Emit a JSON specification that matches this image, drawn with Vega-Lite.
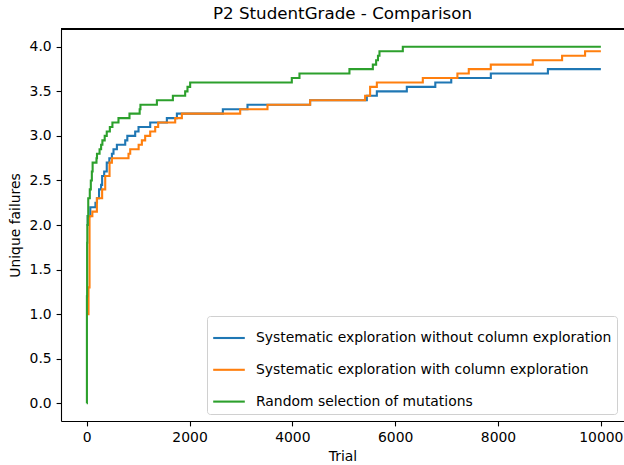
{
  "$schema": "https://vega.github.io/schema/vega-lite/v6.json",
  "width": 563,
  "height": 392,
  "autosize": "none",
  "padding": {"left": 61, "top": 29, "right": 0, "bottom": 44},
  "background": "white",
  "title": {"text": "P2 StudentGrade - Comparison", "font": "DejaVu Sans", "fontSize": 16.7, "fontWeight": "normal", "color": "black", "anchor": "middle", "offset": 6},
  "config": {
    "view": {"stroke": null},
    "axis": {"labelFont": "DejaVu Sans", "labelFontSize": 13.9, "labelColor": "black", "titleFont": "DejaVu Sans", "titleFontSize": 13.9, "titleFontWeight": "normal", "titleColor": "black", "domainColor": "black", "domainWidth": 1.1, "tickColor": "black", "tickWidth": 1.1, "tickSize": 4.9, "labelPadding": 4.9, "grid": false},
    "legend": {"labelFont": "DejaVu Sans", "labelFontSize": 13.9, "labelColor": "black", "labelLimit": 500}
  },
  "data": {"values": [
    {"series": "Systematic exploration without column exploration", "trial": 0, "failures": 2.0},
    {"series": "Systematic exploration without column exploration", "trial": 20, "failures": 2.1},
    {"series": "Systematic exploration without column exploration", "trial": 70, "failures": 2.2},
    {"series": "Systematic exploration without column exploration", "trial": 170, "failures": 2.25},
    {"series": "Systematic exploration without column exploration", "trial": 200, "failures": 2.3},
    {"series": "Systematic exploration without column exploration", "trial": 240, "failures": 2.4},
    {"series": "Systematic exploration without column exploration", "trial": 280, "failures": 2.45},
    {"series": "Systematic exploration without column exploration", "trial": 300, "failures": 2.55},
    {"series": "Systematic exploration without column exploration", "trial": 340, "failures": 2.6},
    {"series": "Systematic exploration without column exploration", "trial": 390, "failures": 2.7},
    {"series": "Systematic exploration without column exploration", "trial": 440, "failures": 2.75},
    {"series": "Systematic exploration without column exploration", "trial": 490, "failures": 2.8},
    {"series": "Systematic exploration without column exploration", "trial": 521, "failures": 2.85},
    {"series": "Systematic exploration without column exploration", "trial": 587, "failures": 2.9},
    {"series": "Systematic exploration without column exploration", "trial": 749, "failures": 2.95},
    {"series": "Systematic exploration without column exploration", "trial": 790, "failures": 3.0},
    {"series": "Systematic exploration without column exploration", "trial": 943, "failures": 3.05},
    {"series": "Systematic exploration without column exploration", "trial": 1008, "failures": 3.1},
    {"series": "Systematic exploration without column exploration", "trial": 1235, "failures": 3.15},
    {"series": "Systematic exploration without column exploration", "trial": 1559, "failures": 3.2},
    {"series": "Systematic exploration without column exploration", "trial": 1754, "failures": 3.25},
    {"series": "Systematic exploration without column exploration", "trial": 2648, "failures": 3.3},
    {"series": "Systematic exploration without column exploration", "trial": 3127, "failures": 3.35},
    {"series": "Systematic exploration without column exploration", "trial": 4345, "failures": 3.4},
    {"series": "Systematic exploration without column exploration", "trial": 5448, "failures": 3.45},
    {"series": "Systematic exploration without column exploration", "trial": 5643, "failures": 3.5},
    {"series": "Systematic exploration without column exploration", "trial": 6226, "failures": 3.55},
    {"series": "Systematic exploration without column exploration", "trial": 6780, "failures": 3.6},
    {"series": "Systematic exploration without column exploration", "trial": 7090, "failures": 3.65},
    {"series": "Systematic exploration without column exploration", "trial": 7860, "failures": 3.7},
    {"series": "Systematic exploration without column exploration", "trial": 8970, "failures": 3.75},
    {"series": "Systematic exploration without column exploration", "trial": 10000, "failures": 3.75},
    {"series": "Systematic exploration with column exploration", "trial": 0, "failures": 1.0},
    {"series": "Systematic exploration with column exploration", "trial": 35, "failures": 1.3},
    {"series": "Systematic exploration with column exploration", "trial": 55, "failures": 2.1},
    {"series": "Systematic exploration with column exploration", "trial": 110, "failures": 2.15},
    {"series": "Systematic exploration with column exploration", "trial": 198, "failures": 2.3},
    {"series": "Systematic exploration with column exploration", "trial": 300, "failures": 2.4},
    {"series": "Systematic exploration with column exploration", "trial": 360, "failures": 2.55},
    {"series": "Systematic exploration with column exploration", "trial": 444, "failures": 2.7},
    {"series": "Systematic exploration with column exploration", "trial": 490, "failures": 2.75},
    {"series": "Systematic exploration with column exploration", "trial": 813, "failures": 2.8},
    {"series": "Systematic exploration with column exploration", "trial": 846, "failures": 2.85},
    {"series": "Systematic exploration with column exploration", "trial": 1010, "failures": 2.9},
    {"series": "Systematic exploration with column exploration", "trial": 1073, "failures": 2.95},
    {"series": "Systematic exploration with column exploration", "trial": 1137, "failures": 3.0},
    {"series": "Systematic exploration with column exploration", "trial": 1235, "failures": 3.05},
    {"series": "Systematic exploration with column exploration", "trial": 1332, "failures": 3.1},
    {"series": "Systematic exploration with column exploration", "trial": 1390, "failures": 3.15},
    {"series": "Systematic exploration with column exploration", "trial": 1721, "failures": 3.2},
    {"series": "Systematic exploration with column exploration", "trial": 1851, "failures": 3.25},
    {"series": "Systematic exploration with column exploration", "trial": 2985, "failures": 3.3},
    {"series": "Systematic exploration with column exploration", "trial": 3516, "failures": 3.35},
    {"series": "Systematic exploration with column exploration", "trial": 4345, "failures": 3.4},
    {"series": "Systematic exploration with column exploration", "trial": 5415, "failures": 3.45},
    {"series": "Systematic exploration with column exploration", "trial": 5512, "failures": 3.55},
    {"series": "Systematic exploration with column exploration", "trial": 5643, "failures": 3.6},
    {"series": "Systematic exploration with column exploration", "trial": 6537, "failures": 3.65},
    {"series": "Systematic exploration with column exploration", "trial": 7210, "failures": 3.7},
    {"series": "Systematic exploration with column exploration", "trial": 7431, "failures": 3.75},
    {"series": "Systematic exploration with column exploration", "trial": 7859, "failures": 3.8},
    {"series": "Systematic exploration with column exploration", "trial": 8676, "failures": 3.85},
    {"series": "Systematic exploration with column exploration", "trial": 9246, "failures": 3.9},
    {"series": "Systematic exploration with column exploration", "trial": 9693, "failures": 3.95},
    {"series": "Systematic exploration with column exploration", "trial": 10000, "failures": 3.95},
    {"series": "Random selection of mutations", "trial": 0, "failures": 0.0},
    {"series": "Random selection of mutations", "trial": 4, "failures": 1.2},
    {"series": "Random selection of mutations", "trial": 8, "failures": 1.8},
    {"series": "Random selection of mutations", "trial": 12, "failures": 2.0},
    {"series": "Random selection of mutations", "trial": 20, "failures": 2.1},
    {"series": "Random selection of mutations", "trial": 30, "failures": 2.3},
    {"series": "Random selection of mutations", "trial": 60, "failures": 2.4},
    {"series": "Random selection of mutations", "trial": 80, "failures": 2.5},
    {"series": "Random selection of mutations", "trial": 100, "failures": 2.6},
    {"series": "Random selection of mutations", "trial": 115, "failures": 2.7},
    {"series": "Random selection of mutations", "trial": 190, "failures": 2.75},
    {"series": "Random selection of mutations", "trial": 200, "failures": 2.8},
    {"series": "Random selection of mutations", "trial": 250, "failures": 2.85},
    {"series": "Random selection of mutations", "trial": 280, "failures": 2.9},
    {"series": "Random selection of mutations", "trial": 305, "failures": 2.95},
    {"series": "Random selection of mutations", "trial": 350, "failures": 3.0},
    {"series": "Random selection of mutations", "trial": 390, "failures": 3.05},
    {"series": "Random selection of mutations", "trial": 450, "failures": 3.1},
    {"series": "Random selection of mutations", "trial": 500, "failures": 3.15},
    {"series": "Random selection of mutations", "trial": 618, "failures": 3.2},
    {"series": "Random selection of mutations", "trial": 832, "failures": 3.25},
    {"series": "Random selection of mutations", "trial": 1030, "failures": 3.3},
    {"series": "Random selection of mutations", "trial": 1045, "failures": 3.35},
    {"series": "Random selection of mutations", "trial": 1365, "failures": 3.4},
    {"series": "Random selection of mutations", "trial": 1676, "failures": 3.45},
    {"series": "Random selection of mutations", "trial": 1915, "failures": 3.5},
    {"series": "Random selection of mutations", "trial": 1960, "failures": 3.55},
    {"series": "Random selection of mutations", "trial": 2012, "failures": 3.6},
    {"series": "Random selection of mutations", "trial": 3989, "failures": 3.65},
    {"series": "Random selection of mutations", "trial": 4138, "failures": 3.7},
    {"series": "Random selection of mutations", "trial": 5110, "failures": 3.75},
    {"series": "Random selection of mutations", "trial": 5565, "failures": 3.8},
    {"series": "Random selection of mutations", "trial": 5629, "failures": 3.85},
    {"series": "Random selection of mutations", "trial": 5665, "failures": 3.9},
    {"series": "Random selection of mutations", "trial": 5694, "failures": 3.95},
    {"series": "Random selection of mutations", "trial": 6148, "failures": 4.0},
    {"series": "Random selection of mutations", "trial": 10000, "failures": 4.0}
  ]},
  "layer": [
    {
      "mark": {"type": "line", "interpolate": "step-after", "strokeWidth": 2.1},
      "encoding": {
        "x": {"field": "trial", "type": "quantitative", "title": "Trial",
              "scale": {"domain": [-500, 10450], "nice": false, "zero": false},
              "axis": {"values": [0, 2000, 4000, 6000, 8000, 10000], "format": "d", "titlePadding": 5}},
        "y": {"field": "failures", "type": "quantitative", "title": "Unique failures",
              "scale": {"domain": [-0.2, 4.2], "nice": false, "zero": false},
              "axis": {"values": [0, 0.5, 1, 1.5, 2, 2.5, 3, 3.5, 4], "format": ".1f", "titlePadding": 7}},
        "color": {"field": "series", "type": "nominal", "sort": null,
                  "scale": {"domain": ["Systematic exploration without column exploration", "Systematic exploration with column exploration", "Random selection of mutations"],
                            "range": ["#1f77b4", "#ff7f0e", "#2ca02c"]},
                  "legend": {"title": null, "orient": "bottom-right", "offset": 7, "symbolType": "stroke", "symbolSize": 1000, "symbolStrokeWidth": 2.1, "labelOffset": 10, "rowPadding": 7.8, "padding": 5, "fillColor": "white", "strokeColor": "#d0d0d0", "cornerRadius": 3}}
      }
    },
    {
      "mark": {"type": "rule", "color": "black", "strokeWidth": 1.1},
      "encoding": {"y": {"datum": 4.2}}
    }
  ]
}
